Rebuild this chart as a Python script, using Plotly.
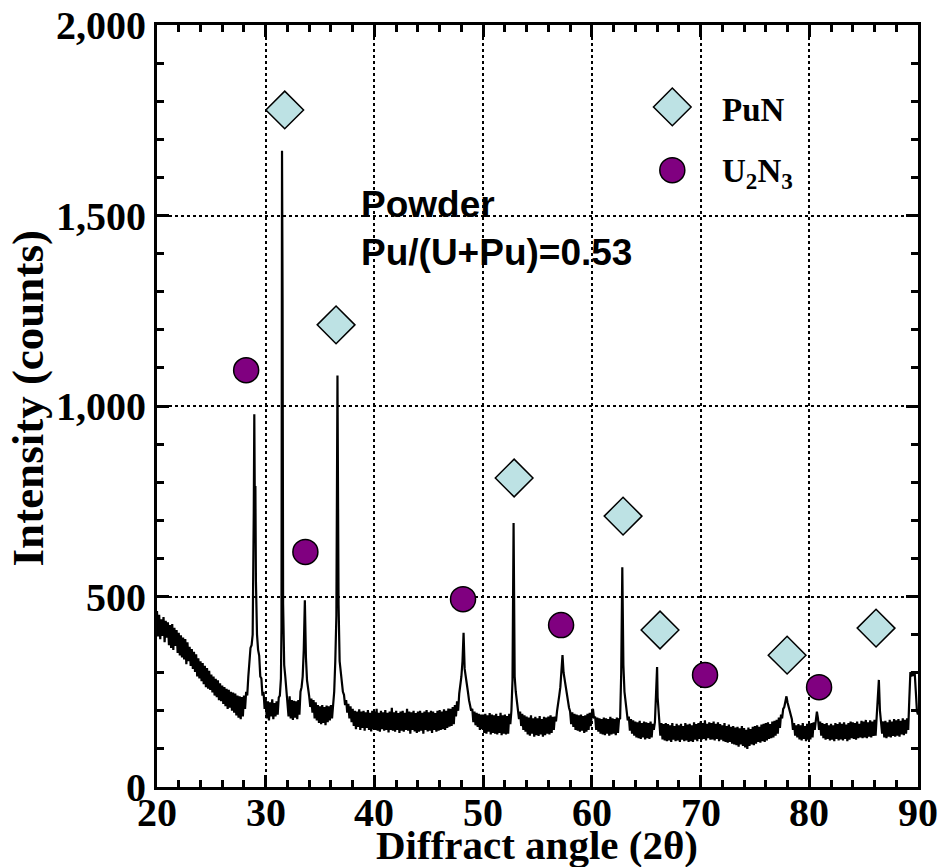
import numpy as np
import plotly.graph_objects as go

# ---------------- data ----------------
# Scan, sampled every 0.1 deg from 20.0 to 90.0 (one row = one degree)
scan_start = 20.0
scan_step = 0.1
scan_counts = [
    462, 395, 452, 388, 440, 400, 446, 380, 436, 392,   # 20
    432, 372, 425, 365, 428, 360, 418, 370, 412, 352,   # 21
    405, 345, 398, 340, 392, 335, 388, 322, 380, 330,   # 22
    368, 318, 362, 310, 355, 302, 348, 290, 338, 285,   # 23
    330, 278, 325, 270, 318, 262, 312, 258, 305, 255,   # 24
    295, 248, 290, 240, 284, 236, 280, 228, 272, 225,   # 25
    266, 218, 262, 212, 258, 205, 255, 208, 250, 200,   # 26
    248, 195, 245, 188, 240, 182, 238, 178, 236, 185,   # 27
    240, 205, 250, 240, 290, 320, 365, 372, 400, 720,   # 28
    740, 540, 400, 360, 345, 290, 285, 240, 250, 205,   # 29
    228, 180, 225, 175, 222, 185, 230, 178, 220, 185,   # 30
    225, 190, 235, 240, 285, 1670, 480, 320, 290, 250,  # 31
    232, 185, 238, 180, 228, 176, 226, 182, 225, 178,   # 32
    228, 190, 250, 262, 290, 360, 490, 340, 280, 262,   # 33
    238, 210, 232, 195, 228, 180, 222, 175, 215, 168,   # 34
    212, 165, 215, 168, 210, 162, 214, 170, 212, 175,   # 35
    215, 180, 225, 250, 330, 450, 1080, 480, 330, 300,  # 36
    280, 250, 242, 215, 228, 195, 218, 180, 212, 170,   # 37
    205, 160, 200, 152, 198, 158, 204, 150, 198, 155,   # 38
    200, 148, 196, 155, 202, 150, 195, 146, 200, 152,   # 39
    198, 150, 205, 148, 195, 145, 200, 152, 196, 148,   # 40
    202, 150, 195, 143, 198, 150, 208, 148, 196, 145,   # 41
    200, 150, 194, 142, 198, 148, 200, 145, 195, 150,   # 42
    205, 148, 198, 140, 196, 150, 200, 146, 194, 142,   # 43
    198, 145, 200, 148, 195, 140, 198, 150, 202, 146,   # 44
    196, 148, 200, 142, 198, 150, 194, 145, 200, 148,   # 45
    202, 150, 198, 152, 204, 150, 200, 155, 206, 158,   # 46
    205, 160, 210, 165, 215, 185, 225, 200, 245, 265,   # 47
    290, 330, 405, 310, 285, 265, 250, 228, 215, 200,   # 48
    205, 170, 198, 162, 195, 158, 192, 150, 190, 152,   # 49
    190, 142, 192, 140, 188, 145, 194, 138, 190, 142,   # 50
    188, 140, 192, 138, 186, 142, 195, 136, 188, 140,   # 51
    190, 138, 186, 140, 192, 165, 200, 280, 693, 290,   # 52
    250, 225, 212, 178, 198, 160, 192, 150, 188, 145,   # 53
    185, 138, 182, 135, 188, 140, 180, 132, 184, 136,   # 54
    180, 134, 186, 138, 178, 132, 184, 136, 182, 140,   # 55
    185, 138, 188, 142, 184, 150, 185, 172, 200, 215,   # 56
    240, 262, 295, 346, 300, 280, 255, 238, 220, 208,   # 57
    198, 165, 196, 158, 192, 150, 190, 148, 188, 145,   # 58
    190, 148, 186, 142, 188, 145, 192, 150, 195, 160,   # 59
    195, 205, 180, 185, 150, 182, 145, 180, 140, 178,   # 60
    138, 182, 136, 180, 140, 178, 135, 184, 138, 180,   # 61
    140, 178, 136, 182, 142, 178, 180, 300, 577, 320,   # 62
    250, 228, 210, 175, 185, 148, 178, 140, 175, 135,   # 63
    172, 130, 170, 128, 174, 126, 168, 130, 172, 125,   # 64
    170, 128, 168, 126, 172, 130, 166, 150, 170, 230,   # 65
    315, 200, 175, 135, 168, 125, 165, 122, 168, 120,   # 66
    165, 122, 162, 118, 168, 124, 160, 120, 166, 122,   # 67
    162, 118, 166, 124, 160, 120, 168, 122, 164, 118,   # 68
    166, 120, 162, 118, 170, 124, 165, 120, 168, 126,   # 69
    172, 124, 168, 126, 175, 122, 166, 128, 170, 124,   # 70
    168, 125, 172, 122, 166, 126, 170, 120, 165, 124,   # 71
    162, 120, 168, 118, 160, 116, 164, 118, 158, 114,   # 72
    160, 112, 156, 110, 158, 106, 154, 112, 160, 108,   # 73
    155, 104, 150, 100, 156, 108, 152, 112, 158, 110,   # 74
    160, 114, 162, 118, 158, 116, 164, 120, 166, 118,   # 75
    168, 122, 170, 126, 165, 128, 172, 130, 174, 135,   # 76
    176, 140, 182, 155, 190, 180, 205, 210, 225, 238,   # 77
    222, 210, 198, 190, 178, 150, 168, 135, 162, 130,   # 78
    165, 125, 162, 122, 168, 126, 160, 120, 166, 124,   # 79
    165, 125, 168, 130, 170, 150, 178, 198, 180, 150,   # 80
    172, 135, 168, 128, 165, 124, 168, 126, 162, 122,   # 81
    166, 124, 162, 120, 168, 126, 165, 122, 170, 125,   # 82
    166, 122, 170, 126, 164, 120, 168, 124, 172, 128,   # 83
    170, 126, 168, 124, 172, 128, 166, 130, 174, 128,   # 84
    172, 130, 176, 128, 170, 132, 175, 130, 172, 134,   # 85
    176, 135, 185, 225, 281, 200, 170, 140, 172, 130,   # 86
    174, 128, 170, 132, 176, 130, 172, 134, 178, 132,   # 87
    175, 135, 178, 132, 174, 138, 180, 136, 176, 140,   # 88
    180, 150, 230, 302, 290, 300, 295, 298, 250, 200,   # 89
    190,                                                # 90
]

# Extra points recorded between scan steps on the sharp reflections
peak_angle = [28.95, 29.05, 31.45, 31.55, 33.65, 36.65, 52.85, 62.85, 66.05]
peak_counts = [978, 790, 420, 1280, 365, 790, 496, 457, 235]

# Phase markers
pun_angle = [31.75, 36.47, 52.85, 62.87, 66.27, 77.96, 86.14]
pun_counts = [1777, 1213, 811, 711, 412, 346, 417]
u2n3_angle = [28.2, 33.65, 48.15, 57.17, 70.41, 80.9]
u2n3_counts = [1094, 617, 493, 425, 294, 262]

# legend keys (data coordinates)
legend_angle = [67.4, 67.4]
legend_counts = [1785, 1619]

# x tick labels
x_ticks = [20, 30, 40, 50, 60, 70, 80, 90]

# ---------------- build figure ----------------
scan_angle = np.round(scan_start + scan_step * np.arange(len(scan_counts)), 2)
ang = np.concatenate([scan_angle, np.array(peak_angle)])
cnt = np.concatenate([np.array(scan_counts, float), np.array(peak_counts, float)])
order = np.argsort(ang, kind="stable")
ang, cnt = ang[order], cnt[order]

SERIF = "Liberation Serif"
SANS = "Liberation Sans"
DIAMOND_FILL = "#BDE2E4"
PURPLE = "#800080"

fig = go.Figure()
fig.add_trace(go.Scatter(x=ang, y=cnt, mode="lines",
                         line=dict(color="black", width=2.2),
                         showlegend=False, hoverinfo="skip"))
fig.add_trace(go.Scatter(x=pun_angle, y=pun_counts, mode="markers",
                         marker=dict(symbol="diamond", size=29, color=DIAMOND_FILL,
                                     line=dict(color="black", width=1.5)),
                         showlegend=False))
fig.add_trace(go.Scatter(x=u2n3_angle, y=u2n3_counts, mode="markers",
                         marker=dict(symbol="circle", size=25, color=PURPLE,
                                     line=dict(color="black", width=1.5)),
                         showlegend=False))
# legend keys
fig.add_trace(go.Scatter(x=legend_angle[:1], y=legend_counts[:1], mode="markers",
                         marker=dict(symbol="diamond", size=29, color=DIAMOND_FILL,
                                     line=dict(color="black", width=1.5)),
                         showlegend=False))
fig.add_trace(go.Scatter(x=legend_angle[1:], y=legend_counts[1:], mode="markers",
                         marker=dict(symbol="circle", size=25, color=PURPLE,
                                     line=dict(color="black", width=1.5)),
                         showlegend=False))

legend_font = dict(family=SERIF, size=33, color="black", weight="bold")
fig.add_annotation(x=71.8, y=legend_counts[0] - 8, text="PuN", showarrow=False,
                   xanchor="left", yanchor="middle", font=legend_font)
fig.add_annotation(x=71.8, y=legend_counts[1] - 10, text="U<sub>2</sub>N<sub>3</sub>",
                   showarrow=False, xanchor="left", yanchor="middle", font=legend_font)

fig.add_annotation(x=38.6, y=1465, text="Powder<br>Pu/(U+Pu)=0.53", showarrow=False,
                   xanchor="left", yanchor="middle", align="left",
                   font=dict(family=SANS, size=37, color="black", weight="bold"))

tickfont = dict(family=SERIF, size=40, color="black", weight="bold")

# x tick labels as text placed under each major tick
for v in x_ticks:
    fig.add_annotation(x=v, xref="x", yref="paper", y=-0.034, text=str(v),
                       showarrow=False, xanchor="center", yanchor="middle",
                       font=tickfont)

# axis titles
fig.add_annotation(xref="paper", yref="paper", x=0.4993, y=-0.076,
                   text="Diffract angle (2θ)", showarrow=False,
                   xanchor="center", yanchor="middle",
                   font=dict(family=SERIF, size=41, color="black", weight="bold"))
fig.add_annotation(xref="paper", yref="paper", x=-0.1695, y=0.510,
                   text="Intensity (counts)", showarrow=False, textangle=-90,
                   xanchor="center", yanchor="middle",
                   font=dict(family=SERIF, size=45, color="black", weight="bold"))

common = dict(showline=True, linecolor="black", linewidth=3, mirror="ticks",
              ticks="inside", ticklen=12, tickwidth=2.5, tickcolor="black",
              showgrid=True, gridcolor="black", gridwidth=1.5, griddash="dot",
              zeroline=False, tickfont=tickfont, automargin=False)

fig.update_xaxes(range=[20, 90], tickvals=x_ticks, showticklabels=False,
                 minor=dict(dtick=2, tick0=0, ticks="inside", ticklen=7, tickwidth=2.5,
                            tickcolor="black", showgrid=False),
                 **common)
fig.update_yaxes(range=[0, 2000], dtick=500, tick0=0, tickformat=",d",
                 minor=dict(dtick=100, ticks="inside", ticklen=7, tickwidth=2.5,
                            tickcolor="black", showgrid=False),
                 ticklabelstandoff=0, **common)

fig.update_layout(width=939, height=867,
                  margin=dict(l=157, r=21, t=25, b=80),
                  plot_bgcolor="white", paper_bgcolor="white",
                  separators=".,", showlegend=False)

fig.write_html("out.html")
